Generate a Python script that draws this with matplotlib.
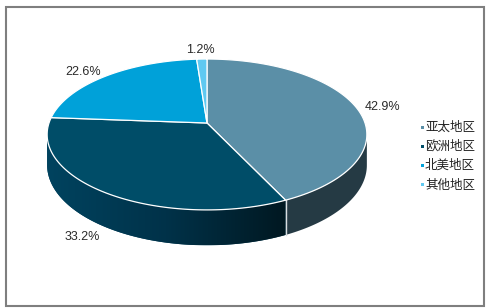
import numpy as np
import matplotlib
matplotlib.use("Agg")
import matplotlib.pyplot as plt
from matplotlib.patches import Polygon, Rectangle
from matplotlib.colors import LinearSegmentedColormap

# ---- data ----
categories = ["亚太地区", "欧洲地区", "北美地区", "其他地区"]
values = [42.9, 33.2, 22.6, 1.2]
labels = ["42.9%", "33.2%", "22.6%", "1.2%"]
top_colors = ["#5b8fa7", "#004d68", "#00a1d9", "#5fc9f1"]
side_colors = ["#253a44", "#00405a", "#0084b3", "#4aa9cc"]

W, H = 488, 308
fig = plt.figure(figsize=(W / 100, H / 100), dpi=100)
ax = fig.add_axes([0, 0, 1, 1])
ax.set_xlim(0, W)
ax.set_ylim(H, 0)
ax.axis("off")

# frame
ax.add_patch(Rectangle((5.5, 6.5), 478, 299, fill=False, ec="#7f7f7f", lw=1.5, zorder=0))

# ---- projection (layout) ----
cx, cy = 207.0, 123.0
A, B, p = 158.0, 73.7, 0.152
depth = 30.0


def proj(theta_deg):
    t = np.radians(theta_deg)
    u, v = np.cos(t), np.sin(t)
    s = 1 + p * v
    return cx + A * u / s, cy - B * v / s, depth / s


total = sum(values)
angles = [90.0]
for v_ in values:
    angles.append(angles[-1] - v_ / total * 360.0)

sil = np.degrees(np.arcsin(p))
front_hi, front_lo = -sil, -180.0 + sil  # visible side arc (decreasing angle)

# side walls
for i in range(len(values)):
    a0, a1 = angles[i], angles[i + 1]
    hi = min(a0, front_hi)
    lo = max(a1, front_lo)
    if hi <= lo:
        continue
    th = np.linspace(hi, lo, 120)
    X, Y, D = proj(th)
    pts = np.concatenate([np.column_stack([X, Y]), np.column_stack([X[::-1], (Y + D)[::-1]])])
    poly = Polygon(pts, closed=True, fc=side_colors[i], ec="none", zorder=1)
    ax.add_patch(poly)
    if i == 1:
        cmap = LinearSegmentedColormap.from_list("g", ["#00435f", "#003249", "#001821"])
        grad = np.linspace(0, 1, 256).reshape(1, -1)
        im = ax.imshow(grad, cmap=cmap, aspect="auto",
                       extent=[X.min(), X.max(), (Y + D).max(), Y.min()], zorder=1.1)
        im.set_clip_path(poly)

# divider lines on the side
for a in angles[1:]:
    aa = ((a + 180) % 360) - 180
    if front_lo < aa < front_hi:
        x, y, d = proj(aa)
        ax.plot([x, x], [y, y + d], color="#d8dde0", lw=1.0, zorder=1.5)

# top faces
for i in range(len(values)):
    th = np.linspace(angles[i], angles[i + 1], 200)
    X, Y, _ = proj(th)
    pts = np.vstack([[cx, cy], np.column_stack([X, Y])])
    ax.add_patch(Polygon(pts, closed=True, fc=top_colors[i], ec="white", lw=0.9,
                         joinstyle="round", zorder=2))

# data labels
lab_font = dict(family=["Liberation Sans", "DejaVu Sans"], fontsize=9, color="#2a2a2a", zorder=3)
offsets = [(9, 0, "left"), (-5, 44, "right"), (-5, -4, "right"), (-1, -9, "center")]
for i in range(len(values)):
    mid = (angles[i] + angles[i + 1]) / 2
    x, y, _ = proj(mid)
    dx, dy, ha = offsets[i]
    ax.text(x + dx, y + dy, labels[i], ha=ha, va="center", **lab_font)

# legend
leg_y0, leg_dy = 127, 19.3
for i, c in enumerate(categories):
    y = leg_y0 + i * leg_dy
    ax.add_patch(Rectangle((420.5, y - 1.5), 3, 3, fc=top_colors[i], ec="none", zorder=3))
    ax.text(425, y, c, ha="left", va="center", fontsize=9, color="#222222",
            family=["Noto Sans CJK SC", "DejaVu Sans"], zorder=3)

fig.savefig("out.png", dpi=100)
